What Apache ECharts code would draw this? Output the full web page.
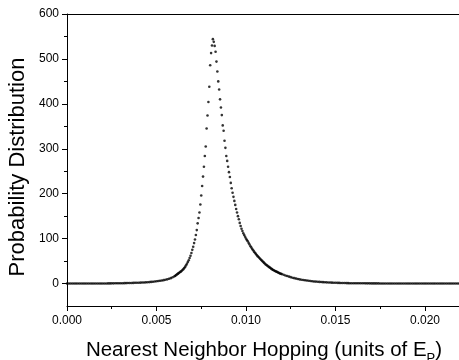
<!DOCTYPE html>
<html><head><meta charset="utf-8">
<script src="https://cdn.jsdelivr.net/npm/echarts@6/dist/echarts.min.js"></script>
<style>html,body{margin:0;padding:0;background:#fff}#c{width:459px;height:360px}</style>
</head><body><div id="c"></div>
<script>
const xTicks=[0,0.005,0.01,0.015,0.02];
const xMinorTicks=[0.0025,0.0075,0.0125,0.0175];
const yTicks=[0,100,200,300,400,500,600];
const yMinorTicks=[50,150,250,350,450,550];
const xTitle='Nearest Neighbor Hopping (units of E';
const xTitleSub='P';
const yTitle='Probability Distribution';

const leftTail=[
[0.0000,0],[0.0001,0],[0.0002,0],[0.0003,0],[0.0004,0],[0.0005,0],[0.0006,0],[0.0007,0],[0.0008,0],[0.0009,0],
[0.0010,0],[0.0011,0],[0.0012,0],[0.0013,0],[0.0014,0],[0.0015,0],[0.0016,0.1],[0.0017,0.1],[0.0018,0.1],[0.0019,0.1],
[0.0020,0.2],[0.0021,0.2],[0.0022,0.2],[0.0023,0.3],[0.0024,0.3],[0.0025,0.4],[0.0026,0.4],[0.0027,0.5],[0.0028,0.5],[0.0029,0.6],
[0.0030,0.7],[0.0031,0.8],[0.0032,0.9],[0.0033,1.0],[0.0034,1.1],[0.0035,1.2],[0.0036,1.3],[0.0037,1.4],[0.0038,1.6],[0.0039,1.7],
[0.0040,1.9],[0.0041,2.0],[0.0042,2.2],[0.0043,2.4],[0.0044,2.6],[0.0045,2.9],[0.0046,3.2],[0.0047,3.6],[0.0048,4.0],[0.0049,4.5],
[0.0050,5.0],[0.0051,5.5],[0.0052,6.1],[0.0053,6.8],[0.0054,7.5],[0.0055,8.3],[0.0056,9.3],[0.0057,10.5],[0.0058,12.0],[0.0059,14.0],
[0.0060,16.0]
];
const peakRegion=[
[0.00605,17.5],[0.00610,19],[0.00615,20.5],[0.00620,22],[0.00625,23.5],[0.00630,25],[0.00635,26.5],[0.00640,28],[0.00645,30],[0.00650,32],
[0.00655,34.5],[0.00660,37],[0.00665,40.5],[0.00670,44],[0.00675,48],[0.00680,52],[0.00685,57],[0.00690,62],[0.00695,68],[0.00700,75],
[0.00705,82],[0.00710,90],[0.00715,98],[0.00720,108],[0.00725,119],[0.00730,134],[0.00735,146],[0.00740,158],[0.00745,176],[0.00750,196],
[0.00755,217],[0.00760,238],[0.00765,260],[0.00770,284],[0.00775,305],[0.00780,345],[0.00785,374],[0.00790,404],[0.00795,438],[0.00800,486],
[0.00805,513],[0.00810,530],[0.00815,544],[0.00820,538],[0.00825,529],[0.00830,516],[0.00835,494],[0.00840,472],[0.00845,450],[0.00850,432],
[0.00855,410],[0.00860,392],[0.00865,375],[0.00870,352],[0.00875,340],[0.00880,318],[0.00885,302],[0.00890,284],[0.00895,273],[0.00900,260],
[0.00905,248],[0.00910,237],[0.00915,224],[0.00920,212],[0.00925,202],[0.00930,193],[0.00935,184],[0.00940,175],[0.00945,166],[0.00950,158],
[0.00955,150],[0.00960,143],[0.00965,135],[0.00970,128],[0.00975,122],[0.00980,117],[0.00985,112],[0.00990,108],[0.00995,104],[0.01000,100],
[0.01005,97],[0.01010,94],[0.01015,90],[0.01020,87],[0.01025,83],[0.01030,80],[0.01035,77],[0.01040,74],[0.01045,71],[0.01050,68.5],
[0.01055,66],[0.01060,63.5],[0.01065,61],[0.01070,59],[0.01075,57],[0.01080,54.5],[0.01085,52.5],[0.01090,50.5],[0.01095,48.5],[0.01100,46.5],
[0.01105,44.5],[0.01110,42.5],[0.01115,41],[0.01120,39.5],[0.01125,38],[0.01130,36.5],[0.01135,35],[0.01140,33.5],[0.01145,32],[0.01150,30.8],
[0.01155,29.6],[0.01160,28.5],[0.01165,27.5],[0.01170,26.5],[0.01175,25.5],[0.01180,24.5],[0.01185,23.5],[0.01190,22.5],[0.01195,21.7],[0.01200,21]
];
const rightTail=[
[0.0121,19.5],[0.0122,18],[0.0123,16.8],[0.0124,15.4],[0.0125,14.2],[0.0126,13],[0.0127,12],[0.0128,11],[0.0129,10],[0.0130,9.2],
[0.0131,8.5],[0.0132,7.8],[0.0133,7.2],[0.0134,6.6],[0.0135,6.1],[0.0136,5.6],[0.0137,5.1],[0.0138,4.7],[0.0139,4.3],[0.0140,4.0],
[0.0141,3.7],[0.0142,3.4],[0.0143,3.1],[0.0144,2.8],[0.0145,2.6],[0.0146,2.4],[0.0147,2.2],[0.0148,2.0],[0.0149,1.8],[0.0150,1.6],
[0.0151,1.5],[0.0152,1.4],[0.0153,1.3],[0.0154,1.2],[0.0155,1.1],[0.0156,1.0],[0.0157,0.9],[0.0158,0.8],[0.0159,0.8],[0.0160,0.7],
[0.0161,0.7],[0.0162,0.6],[0.0163,0.6],[0.0164,0.5],[0.0165,0.5],[0.0166,0.5],[0.0167,0.4],[0.0168,0.4],[0.0169,0.4],[0.0170,0.3],
[0.0171,0.3],[0.0172,0.3],[0.0173,0.3],[0.0174,0.3],[0.0175,0.2],[0.0176,0.2],[0.0177,0.2],[0.0178,0.2],[0.0179,0.2],[0.0180,0.2],
[0.0181,0.2],[0.0182,0.2],[0.0183,0.1],[0.0184,0.1],[0.0185,0.1],[0.0186,0.1],[0.0187,0.1],[0.0188,0.1],[0.0189,0.1],[0.0190,0.1],
[0.0191,0.1],[0.0192,0.1],[0.0193,0.1],[0.0194,0.1],[0.0195,0.1],[0.0196,0],[0.0197,0],[0.0198,0],[0.0199,0],[0.0200,0],
[0.0201,0],[0.0202,0],[0.0203,0],[0.0204,0],[0.0205,0],[0.0206,0],[0.0207,0],[0.0208,0],[0.0209,0],[0.0210,0],
[0.0211,0],[0.0212,0],[0.0213,0],[0.0214,0],[0.0215,0],[0.0216,0],[0.0217,0],[0.0218,0],[0.0219,0]
];

const FONT='"Liberation Sans", Arial, sans-serif';
const X_MIN=0, X_MAX=0.0219, Y_MIN=-50, Y_MAX=600;
const gridRect={left:67,right:0,top:14,bottom:54};
const chart=echarts.init(document.getElementById('c'),null,{renderer:'canvas'});
const black='#000';
chart.setOption({
  animation:false,
  backgroundColor:'#fff',
  grid:[Object.assign({},gridRect),Object.assign({},gridRect)],
  xAxis:[
    {type:'value',gridIndex:0,position:'bottom',min:X_MIN,max:X_MAX,
     axisLine:{show:true,onZero:false,lineStyle:{color:black,width:1}},
     axisTick:{show:true,customValues:xTicks,length:5,lineStyle:{color:black}},
     axisLabel:{show:true,customValues:xTicks,margin:9,fontSize:12,color:black,fontFamily:FONT,
       formatter:v=>v.toFixed(3)},
     splitLine:{show:false}},
    {type:'value',gridIndex:0,position:'top',min:X_MIN,max:X_MAX,
     axisLine:{show:true,onZero:false,lineStyle:{color:black,width:1}},
     axisTick:{show:false},axisLabel:{show:false},splitLine:{show:false}},
    {type:'value',gridIndex:1,position:'bottom',min:X_MIN,max:X_MAX,
     axisLine:{show:false,onZero:false},
     axisTick:{show:true,customValues:xMinorTicks,length:3,lineStyle:{color:black}},
     axisLabel:{show:false},splitLine:{show:false}}
  ],
  yAxis:[
    {type:'value',gridIndex:0,position:'left',min:Y_MIN,max:Y_MAX,
     axisLine:{show:true,onZero:false,lineStyle:{color:black,width:1}},
     axisTick:{show:true,customValues:yTicks,length:5,lineStyle:{color:black}},
     axisLabel:{show:true,customValues:yTicks,margin:8,fontSize:12,color:black,fontFamily:FONT},
     splitLine:{show:false}},
    {type:'value',gridIndex:1,position:'left',min:Y_MIN,max:Y_MAX,
     axisLine:{show:false,onZero:false},
     axisTick:{show:true,customValues:yMinorTicks,length:3,lineStyle:{color:black}},
     axisLabel:{show:false},splitLine:{show:false}}
  ],
  series:[
    {type:'scatter',xAxisIndex:0,yAxisIndex:0,symbol:'circle',symbolSize:2.6,
     itemStyle:{color:black},silent:true,
     data:leftTail.concat(peakRegion,rightTail)}
  ],
  graphic:[
    {type:'text',x:264,y:340,style:{
      text:'{a|'+xTitle+'}{s|'+xTitleSub+'}{a|)}',
      align:'center',verticalAlign:'top',
      rich:{a:{fontSize:20.5,fontFamily:FONT,fill:black,lineHeight:24,verticalAlign:'top'},
            s:{fontSize:13,fontFamily:FONT,fill:black,lineHeight:14,verticalAlign:'top',padding:[12,0,0,0]}}}},
    {type:'text',x:18,y:167,rotation:Math.PI/2,style:{
      text:yTitle,align:'center',verticalAlign:'middle',
      fontSize:22,fontFamily:FONT,fill:black}}
  ]
});
</script></body></html>
